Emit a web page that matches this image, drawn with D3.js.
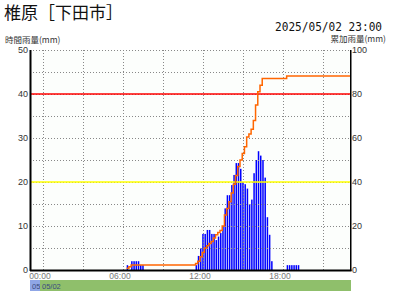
<!DOCTYPE html>
<html>
<head>
<meta charset="utf-8">
<script src="https://cdn.jsdelivr.net/npm/d3@7"></script>
<style>
  body { margin: 0; background: #fff; }
  svg { display: block; }
</style>
</head>
<body>
<svg id="chart" width="400" height="300"></svg>
<script>
var stationName = '椎原［下田市］',
    stamp = '2025/05/02 23:00',
    leftTitle = '時間雨量(mm)',
    rightTitle = '累加雨量(mm)',
    leftTicks = [0, 10, 20, 30, 40, 50],
    rightTicks = [0, 20, 40, 60, 80, 100],
    hourTicks = ['00:00', '06:00', '12:00', '18:00'],
    gridTimes = ['00:15', '03:15', '06:15', '09:15', '12:15', '15:15', '18:15', '21:15'],
    dayLabels = ['05', '05/02'],
    dayStarts = ['-0:45', '00:00'],
    warnLevels = [40, 20],
    warnColors = ['#ff0000', '#ffff00'];

// hourly rainfall (10 min steps)
var barTimes = ['06:30', '06:50', '07:00', '07:10', '07:20', '07:30', '07:40',
                '11:40', '11:50', '12:00', '12:10', '12:20', '12:30', '12:40', '12:50',
                '13:00', '13:10', '13:20', '13:30', '13:40', '13:50', '14:00', '14:10',
                '14:20', '14:30', '14:40', '14:50', '15:00', '15:10', '15:20', '15:30',
                '15:40', '15:50', '16:00', '16:10', '16:20', '16:30', '16:40', '16:50',
                '17:00', '17:10', '17:20',
                '18:30', '18:40', '18:50', '19:00', '19:10', '19:20'],
    barValues = [1.1, 2, 2, 2, 2, 1.1, 1.1,
                 1.1, 3.2, 4.9, 8.2, 8.2, 9.1, 9.1, 8.2,
                 8.2, 6.8, 7.6, 8.4, 10, 14, 17, 17,
                 19.3, 21.6, 24.3, 24.3, 23, 20, 19.5, 18.5,
                 15, 16, 22, 25, 27, 26, 25, 21,
                 12, 8, 2,
                 1.1, 1.1, 1.1, 1.1, 1.1, 1.1];

// cumulative rainfall
var cumTimes = ['06:30', '06:40', '06:50', '11:40', '11:50', '12:00', '12:10', '12:20',
                '12:30', '12:40', '12:50', '13:00', '13:10', '13:20', '13:30', '13:40',
                '13:50', '14:00', '14:10', '14:20', '14:30', '14:40', '14:50', '15:00',
                '15:10', '15:20', '15:30', '15:40', '15:50', '16:00', '16:10', '16:20',
                '16:30', '16:40', '18:30', '23:15'],
    cumValues = [0.8, 1.5, 2.3, 3, 4, 6, 8, 10,
                 11, 12, 13, 14.5, 16, 17, 18, 20,
                 25, 28, 31, 35, 39, 43, 47, 50,
                 53, 56, 60.5, 61.8, 64, 68, 75, 81,
                 84, 87.1, 88.2, 88.2];

var svg = d3.select('#chart'),
    plotL = 30, plotR = 350, plotT = 50, plotB = 270;

function hour(s) {
  var neg = s[0] === '-';
  var p = s.replace('-', '').split(':');
  var h = +p[0] + p[1] / 60;
  return neg ? -h : h;
}

var x = d3.scaleLinear().domain([-0.75, 23.25]).range([plotL, plotR]);
var yL = d3.scaleLinear().domain([0, 50]).range([plotB, plotT]);
var yR = d3.scaleLinear().domain([0, 100]).range([plotB, plotT]);

var numFont = '"Liberation Sans", Arial, sans-serif',
    jpFont = '"Noto Sans CJK JP", sans-serif';

// title + timestamp
svg.append('text')
   .attr('x', 4).attr('y', 19)
   .attr('font-family', jpFont).attr('font-size', 17)
   .attr('fill', '#111')
   .text(stationName);

svg.append('text')
   .attr('x', 382).attr('y', 30.5)
   .attr('text-anchor', 'end')
   .attr('font-family', '"DejaVu Sans Mono", monospace').attr('font-size', 12)
   .attr('textLength', 107).attr('lengthAdjust', 'spacingAndGlyphs')
   .attr('fill', '#111')
   .text(stamp);

svg.append('text')
   .attr('x', 5).attr('y', 43)
   .attr('font-family', jpFont).attr('font-size', 8.5)
   .attr('fill', '#333')
   .text(leftTitle);

svg.append('text')
   .attr('x', 386).attr('y', 42)
   .attr('text-anchor', 'end')
   .attr('font-family', jpFont).attr('font-size', 8.5)
   .attr('fill', '#333')
   .text(rightTitle);

// plot background
svg.append('rect')
   .attr('x', plotL).attr('y', plotT)
   .attr('width', plotR - plotL).attr('height', plotB - plotT)
   .attr('fill', '#fcfefc');

// bars
svg.append('g')
   .selectAll('rect')
   .data(barTimes.map(function(t, i) { return { t: t, v: barValues[i] }; }))
   .enter().append('rect')
     .attr('x', function(d) { return x(hour(d.t)); })
     .attr('y', function(d) { return yL(d.v); })
     .attr('width', 1.5)
     .attr('height', function(d) { return plotB - yL(d.v); })
     .attr('fill', '#0000ff');

// grid
var grid = svg.append('g')
              .attr('stroke', '#888')
              .attr('stroke-dasharray', '1,2')
              .attr('stroke-width', 1);

grid.selectAll('.h')
    .data(yL.ticks(10))
    .enter().append('line')
      .attr('x1', plotL).attr('x2', plotR)
      .attr('y1', function(d) { return Math.round(yL(d)) + 0.5; })
      .attr('y2', function(d) { return Math.round(yL(d)) + 0.5; });

grid.selectAll('.v')
    .data(gridTimes)
    .enter().append('line')
      .attr('x1', function(d) { return Math.round(x(hour(d))) + 0.5; })
      .attr('x2', function(d) { return Math.round(x(hour(d))) + 0.5; })
      .attr('y1', plotT).attr('y2', plotB);

// warning levels
svg.append('g')
   .selectAll('line')
   .data(warnLevels)
   .enter().append('line')
     .attr('x1', plotL).attr('x2', plotR)
     .attr('y1', function(d) { return yL(d); })
     .attr('y2', function(d) { return yL(d); })
     .attr('stroke', function(d, i) { return warnColors[i]; })
     .attr('stroke-width', 1.5);

// cumulative line
var cum = cumTimes.map(function(t, i) { return { t: t, v: cumValues[i] }; });
svg.append('path')
   .datum(cum)
   .attr('fill', 'none')
   .attr('stroke', '#ff6600')
   .attr('stroke-width', 1.5)
   .attr('d', d3.line()
     .x(function(d) { return x(hour(d.t)); })
     .y(function(d) { return yR(d.v); })
     .curve(d3.curveStepAfter));

// axes
svg.append('line')
   .attr('x1', plotL + 0.5).attr('x2', plotL + 0.5)
   .attr('y1', plotT).attr('y2', plotB + 1)
   .attr('stroke', '#000').attr('stroke-width', 2);
svg.append('line')
   .attr('x1', plotR + 0.75).attr('x2', plotR + 0.75)
   .attr('y1', plotT).attr('y2', plotB + 1)
   .attr('stroke', '#000').attr('stroke-width', 1.5);
svg.append('line')
   .attr('x1', plotL).attr('x2', plotR + 1.5)
   .attr('y1', plotB + 0.5).attr('y2', plotB + 0.5)
   .attr('stroke', '#000').attr('stroke-width', 2);

svg.append('g')
   .selectAll('text')
   .data(leftTicks)
   .enter().append('text')
     .attr('x', plotL - 2)
     .attr('y', function(d) { return yL(d) + 3; })
     .attr('text-anchor', 'end')
     .attr('font-family', numFont).attr('font-size', 9)
     .attr('fill', '#333')
     .text(function(d) { return d; });

svg.append('g')
   .selectAll('text')
   .data(rightTicks)
   .enter().append('text')
     .attr('x', plotR + 2)
     .attr('y', function(d) { return yR(d) + 3; })
     .attr('font-family', numFont).attr('font-size', 9)
     .attr('fill', '#333')
     .text(function(d) { return d; });

svg.append('g')
   .selectAll('text')
   .data(hourTicks)
   .enter().append('text')
     .attr('x', function(d) { return x(hour(d)); })
     .attr('y', 279)
     .attr('text-anchor', 'middle')
     .attr('font-family', numFont).attr('font-size', 8.5)
     .attr('fill', '#777')
     .text(function(d) { return d; });

// date band
var bandY = 280, bandH = 11,
    bandColors = ['#8fa6e6', '#8fbf6b'];
var bandEnds = dayStarts.slice(1).map(hour).concat([23.25]);

var days = svg.append('g')
              .selectAll('g')
              .data(dayStarts)
              .enter().append('g');

days.append('rect')
    .attr('x', function(d) { return Math.max(plotL, x(hour(d))); })
    .attr('y', bandY)
    .attr('width', function(d, i) { return x(bandEnds[i]) - Math.max(plotL, x(hour(d))) + 1; })
    .attr('height', bandH)
    .attr('fill', function(d, i) { return bandColors[i]; });

days.append('text')
    .attr('x', function(d) { return Math.max(plotL, x(hour(d))) + 2; })
    .attr('y', bandY + 8.5)
    .attr('font-family', numFont).attr('font-size', 7.5)
    .attr('fill', '#3a4a80')
    .text(function(d, i) { return dayLabels[i]; });
</script>
</body>
</html>
